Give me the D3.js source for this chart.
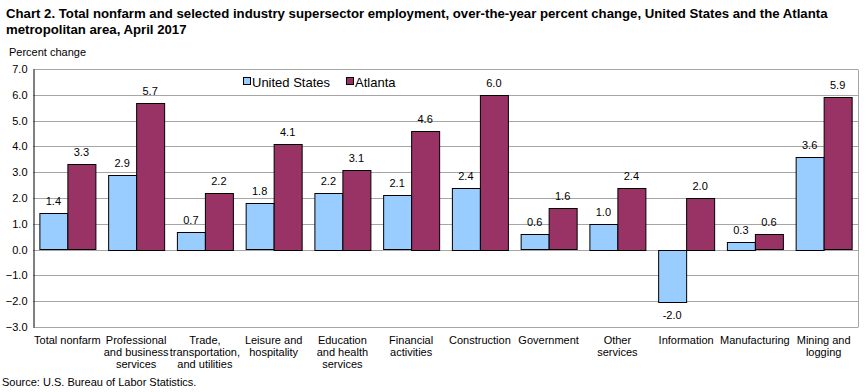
<!DOCTYPE html>
<html>
<head>
<meta charset="utf-8">
<script src="https://cdn.jsdelivr.net/npm/d3@7"></script>
<style>
  body { margin: 0; background: #fff; }
  text { font-family: "Liberation Sans", Arial, sans-serif; fill: #000; }
</style>
</head>
<body>
<svg id="chart"></svg>
<script>
// Data
const categories = [
  ["Total nonfarm"],
  ["Professional", "and business", "services"],
  ["Trade,", "transportation,", "and utilities"],
  ["Leisure and", "hospitality"],
  ["Education", "and health", "services"],
  ["Financial", "activities"],
  ["Construction"],
  ["Government"],
  ["Other", "services"],
  ["Information"],
  ["Manufacturing"],
  ["Mining and", "logging"]
];
const unitedStates = [1.4, 2.9, 0.7, 1.8, 2.2, 2.1, 2.4, 0.6, 1.0, -2.0, 0.3, 3.6];
const atlanta = [3.3, 5.7, 2.2, 4.1, 3.1, 4.6, 6.0, 1.6, 2.4, 2.0, 0.6, 5.9];
const seriesNames = ["United States", "Atlanta"];
const seriesColors = ["#99CCFF", "#993366"];
const yTicks = [-3, -2, -1, 0, 1, 2, 3, 4, 5, 6, 7];

const width = 868, height = 392;
const margin = {top: 69, right: 10, bottom: 65, left: 33};
const innerW = width - margin.left - margin.right;
const innerH = height - margin.top - margin.bottom;

const svg = d3.select('#chart')
  .attr('width', width)
  .attr('height', height);

// Title
svg.append('text')
  .attr('x', 6).attr('y', 18)
  .style('font-size', '13.2px').style('font-weight', 'bold')
  .text('Chart 2. Total nonfarm and selected industry  supersector  employment, over-the-year percent change, United States and the Atlanta');
svg.append('text')
  .attr('x', 6).attr('y', 34)
  .style('font-size', '13.2px').style('font-weight', 'bold')
  .text('metropolitan area, April 2017');

svg.append('text')
  .attr('x', 9).attr('y', 56)
  .style('font-size', '11px')
  .text('Percent change');

const chart = svg.append('g')
  .attr('transform', `translate(${margin.left},${margin.top})`);

const x0 = d3.scaleBand()
  .domain(d3.range(categories.length))
  .range([0, innerW])
  .paddingInner(0.186)
  .paddingOuter(0.093);

const x1 = d3.scaleBand()
  .domain([0, 1])
  .range([0, x0.bandwidth()]);

const y = d3.scaleLinear()
  .domain([-3, 7])
  .range([innerH, 0]);

// Gridlines
chart.append('g')
  .selectAll('line')
  .data(yTicks)
  .join('line')
  .attr('x1', 0).attr('x2', innerW)
  .attr('y1', d => Math.round(y(d)) + 0.5)
  .attr('y2', d => Math.round(y(d)) + 0.5)
  .attr('stroke', '#a6a6a6');

// Plot border (right side)
chart.append('path')
  .attr('d', `M${innerW + 0.5},${Math.round(y(7)) + 0.5}V${Math.round(y(-3)) + 0.5}`)
  .attr('stroke', '#a6a6a6').attr('fill', 'none');

// Bars
const groups = chart.selectAll('.grp')
  .data(categories)
  .join('g')
  .attr('class', 'grp')
  .attr('transform', (d, i) => `translate(${x0(i)},0)`);

[unitedStates, atlanta].forEach((vals, s) => {
  groups.append('rect')
    .attr('x', (d, i) => Math.round(x1(s)) + 0.5)
    .attr('y', (d, i) => Math.round(y(Math.max(0, vals[i]))) + 0.5)
    .attr('width', Math.round(x1.bandwidth()))
    .attr('height', (d, i) => Math.round(Math.abs(y(vals[i]) - y(0))))
    .attr('fill', seriesColors[s])
    .attr('stroke', '#000');

  groups.append('text')
    .attr('x', (d, i) => x1(s) + x1.bandwidth() / 2)
    .attr('y', (d, i) => vals[i] >= 0 ? y(vals[i]) - 8 : y(vals[i]) + 18)
    .attr('text-anchor', 'middle')
    .style('font-size', '11px')
    .text((d, i) => vals[i].toFixed(1));
});

// Y axis
const yAxis = d3.axisLeft(y)
  .tickValues(yTicks)
  .tickSize(0)
  .tickPadding(6)
  .tickFormat(d3.format('.1f'));

const yAxisG = chart.append('g')
  .attr('transform', 'translate(0.5,0)')
  .call(yAxis);
yAxisG.select('.domain').attr('stroke', '#000');
yAxisG.selectAll('text')
  .style('font-size', '11px')
  .style('font-family', '"Liberation Sans", Arial, sans-serif')
  .attr('fill', '#000');

// Category labels
const labels = chart.append('g')
  .selectAll('text')
  .data(categories)
  .join('text')
  .attr('text-anchor', 'middle')
  .attr('transform', (d, i) => `translate(${x0(i) + x0.bandwidth() / 2},${innerH + 17})`)
  .style('font-size', '11px');
labels.selectAll('tspan')
  .data(d => d)
  .join('tspan')
  .attr('x', 0)
  .attr('dy', (d, i) => i === 0 ? 0 : 12)
  .text(d => d);

// Legend
const legend = svg.append('g');
const legendX = [243, 346];
seriesNames.forEach((name, s) => {
  legend.append('rect')
    .attr('x', legendX[s] + 0.5).attr('y', 77.5)
    .attr('width', 7).attr('height', 7)
    .attr('fill', seriesColors[s]).attr('stroke', '#000');
  legend.append('text')
    .attr('x', legendX[s] + 9).attr('y', 87)
    .style('font-size', '13px')
    .text(name);
});

// Source
svg.append('text')
  .attr('x', 2).attr('y', 386)
  .style('font-size', '11px')
  .text('Source: U.S. Bureau of Labor Statistics.');
</script>
</body>
</html>
